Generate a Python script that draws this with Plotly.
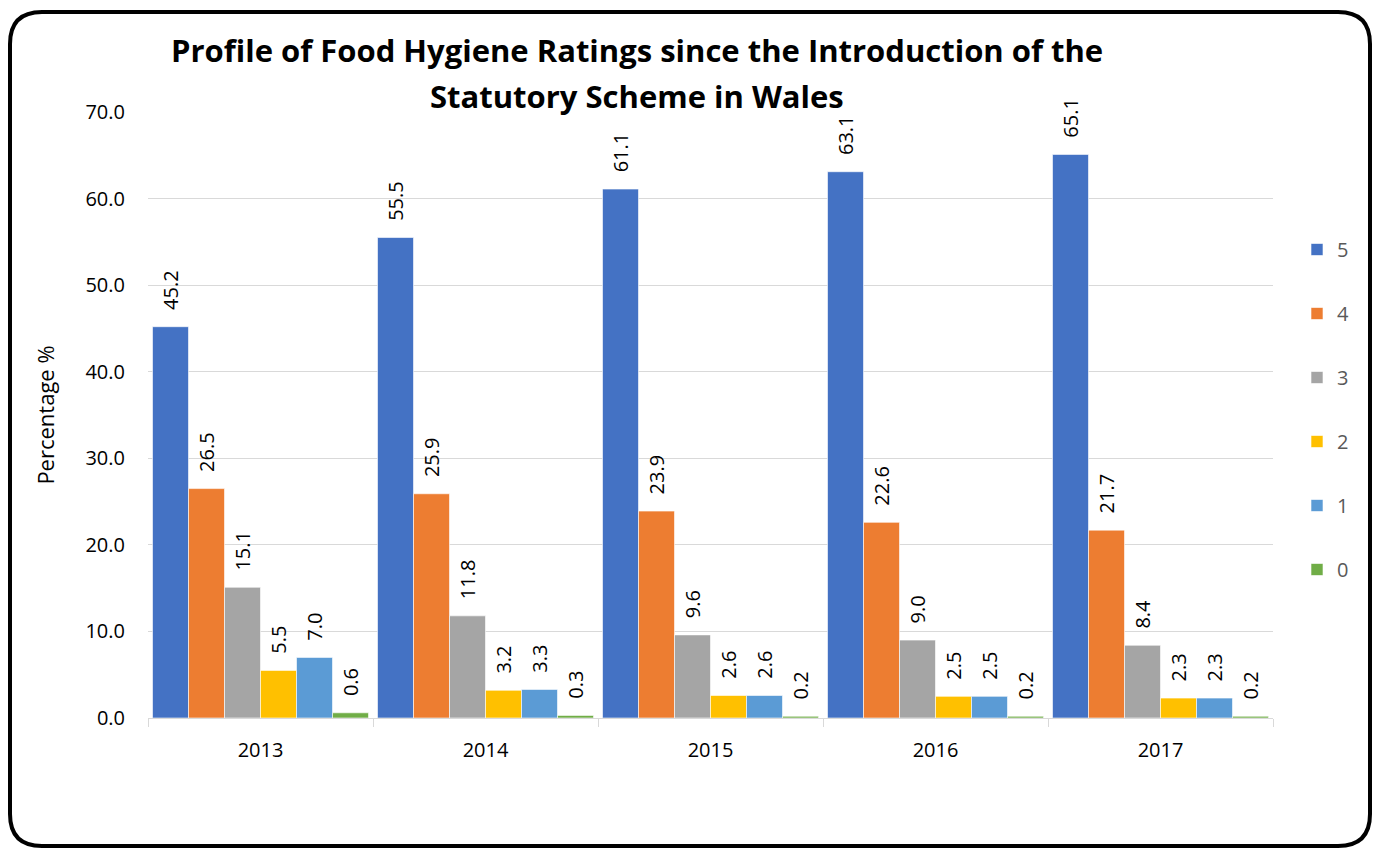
import plotly.graph_objects as go

years = ["2013", "2014", "2015", "2016", "2017"]
ratings = ["5", "4", "3", "2", "1", "0"]
r5 = [45.2, 55.5, 61.1, 63.1, 65.1]
r4 = [26.5, 25.9, 23.9, 22.6, 21.7]
r3 = [15.1, 11.8, 9.6, 9.0, 8.4]
r2 = [5.5, 3.2, 2.6, 2.5, 2.3]
r1 = [7.0, 3.3, 2.6, 2.5, 2.3]
r0 = [0.6, 0.3, 0.2, 0.2, 0.2]
series = [r5, r4, r3, r2, r1, r0]
colors = ["#4472C4", "#ED7D31", "#A5A5A5", "#FFC000", "#5B9BD5", "#70AD47"]
title_lines = ["Profile of Food Hygiene Ratings since the Introduction of the",
               "Statutory Scheme in Wales"]

W, H = 1382, 848
ML, MR, MT, MB = 148, 109, 112, 130
PW, PH = W - ML - MR, H - MT - MB

def px(x):
    return (x - ML) / PW

def py(y):
    return (H - MB - y) / PH

FONT = "Open Sans"
PAD = "\u00a0\u00a0\u2009"

fig = go.Figure()
for name, vals, col in zip(ratings, series, colors):
    fig.add_trace(go.Bar(
        x=years, y=vals, name=name,
        marker=dict(color=col, line=dict(color="white", width=0.6)),
        text=[f"{PAD}{v:.1f}" for v in vals],
        textposition="outside", textangle=-90, constraintext="none",
        textfont=dict(family=FONT, size=20, color="#000000"),
        cliponaxis=False,
        legendgroup=name,
    ))

# rounded border
x0, x1, y0, y1, r = 10, 1370, 12, 846, 32
path = (f"M {px(x0+r)},{py(y0)} L {px(x1-r)},{py(y0)} "
        f"Q {px(x1)},{py(y0)} {px(x1)},{py(y0+r)} "
        f"L {px(x1)},{py(y1-r)} Q {px(x1)},{py(y1)} {px(x1-r)},{py(y1)} "
        f"L {px(x0+r)},{py(y1)} Q {px(x0)},{py(y1)} {px(x0)},{py(y1-r)} "
        f"L {px(x0)},{py(y0+r)} Q {px(x0)},{py(y0)} {px(x0+r)},{py(y0)} Z")

annotations = []
for line, cy in zip(title_lines, [50, 96]):
    annotations.append(dict(
        text=f"<b>{line}</b>", x=px(637), y=py(cy),
        xref="paper", yref="paper", showarrow=False,
        xanchor="center", yanchor="middle",
        font=dict(family=FONT, size=31, color="#000000")))

fig.update_layout(
    width=W, height=H,
    margin=dict(l=ML, r=MR, t=MT, b=MB, autoexpand=False),
    paper_bgcolor="white", plot_bgcolor="white",
    font=dict(family=FONT, size=20, color="#000000"),
    bargap=0.04, bargroupgap=0,
    barmode="group",
    showlegend=True,
    legend=dict(
        x=px(1297), xanchor="left", y=py(230), yanchor="top",
        traceorder="grouped", tracegroupgap=35,
        font=dict(family=FONT, size=20, color="#595959"),
        bgcolor="rgba(0,0,0,0)",
    ),
    xaxis=dict(
        type="category", showgrid=False,
        showline=True, linecolor="#D9D9D9", linewidth=1,
        ticks="outside", tickson="boundaries", ticklen=8, tickcolor="#D9D9D9",
        tickfont=dict(family=FONT, size=20, color="#000000"),
        ticklabelstandoff=14,
    ),
    yaxis=dict(
        range=[0, 70], dtick=10, tickformat=".1f",
        showgrid=True, gridcolor="#D9D9D9", gridwidth=1,
        zeroline=False, showline=False,
        tickfont=dict(family=FONT, size=20, color="#000000"),
        ticklabelstandoff=22,
        title=dict(text="Percentage %", standoff=24,
                   font=dict(family=FONT, size=22, color="#000000")),
    ),
    annotations=annotations,
    shapes=[dict(type="path", path=path, xref="paper", yref="paper",
                 line=dict(color="#000000", width=4), fillcolor="rgba(0,0,0,0)",
                 layer="above")],
)

fig.write_html("out.html")
